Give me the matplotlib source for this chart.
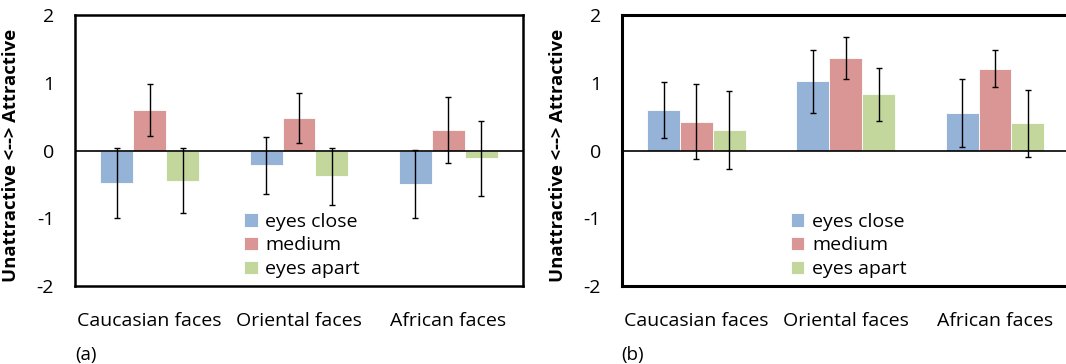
import matplotlib
matplotlib.use("Agg")
import matplotlib.pyplot as plt
import numpy as np

plt.rcParams['font.family'] = ['Open Sans', 'DejaVu Sans']

categories = ["Caucasian faces", "Oriental faces", "African faces"]
series = ["eyes close", "medium", "eyes apart"]
colors = ["#95B3D7", "#D99694", "#C3D69B"]

# panel (a)
a_close = [-0.48, -0.22, -0.49]
a_medium = [0.60, 0.475, 0.30]
a_apart = [-0.445, -0.38, -0.115]
a_close_err = [0.52, 0.42, 0.50]
a_medium_err = [0.38, 0.37, 0.49]
a_apart_err = [0.48, 0.42, 0.55]

# panel (b)
b_close = [0.60, 1.02, 0.55]
b_medium = [0.425, 1.36, 1.21]
b_apart = [0.30, 0.83, 0.40]
b_close_err = [0.41, 0.46, 0.50]
b_medium_err = [0.55, 0.31, 0.28]
b_apart_err = [0.58, 0.39, 0.50]

yticks = [-2, -1, 0, 1, 2]
ylabel = "Unattractive <--> Attractive"

W, H = 1066, 364
fig = plt.figure(figsize=(W / 100, H / 100), dpi=100)

def make_panel(left_px, vals, errs, tag, spine_lw):
    ax = fig.add_axes([left_px / W, (H - 286) / H, 448 / W, 271 / H])
    x = np.arange(len(categories))
    bw = 0.22
    for i, (v, e) in enumerate(zip(vals, errs)):
        ax.bar(x + (i - 1) * bw, v, width=bw, color=colors[i], label=series[i],
               edgecolor="white", linewidth=0.6, zorder=2)
        ax.errorbar(x + (i - 1) * bw, v, yerr=e, fmt="none", ecolor="black",
                    elinewidth=1.0, capsize=2.5, capthick=1.0, zorder=4)
    ax.axhline(0, color="black", linewidth=1.2, zorder=3)
    ax.set_xlim(-0.5, 2.5)
    ax.set_ylim(-2, 2)
    ax.set_yticks(yticks)
    ax.set_yticklabels([str(t) for t in yticks])
    ax.set_xticks(x)
    ax.set_xticklabels(categories)
    ax.tick_params(length=0, labelsize=14, colors="black")
    ax.tick_params(axis="y", pad=15)
    ax.tick_params(axis="x", pad=19)
    for s in ax.spines.values():
        s.set_linewidth(spine_lw)
        s.set_color("black")
    ax.set_ylabel(ylabel, fontsize=13.3, fontweight="bold")
    ax.yaxis.set_label_coords(-0.122, 0.48)
    ax.legend(loc="lower left", bbox_to_anchor=(0.36, 0.0), frameon=False,
              fontsize=14, handlelength=0.7, handleheight=0.7,
              handletextpad=0.4, labelspacing=0.3, borderaxespad=0.0)
    ax.text(0.0, -0.255, tag, transform=ax.transAxes, fontsize=13.5,
            ha="left", va="center")
    return ax

make_panel(75, [a_close, a_medium, a_apart], [a_close_err, a_medium_err, a_apart_err], "(a)", 1.8)
make_panel(621.7, [b_close, b_medium, b_apart], [b_close_err, b_medium_err, b_apart_err], "(b)", 2.2)

fig.savefig("out.png", dpi=100)
